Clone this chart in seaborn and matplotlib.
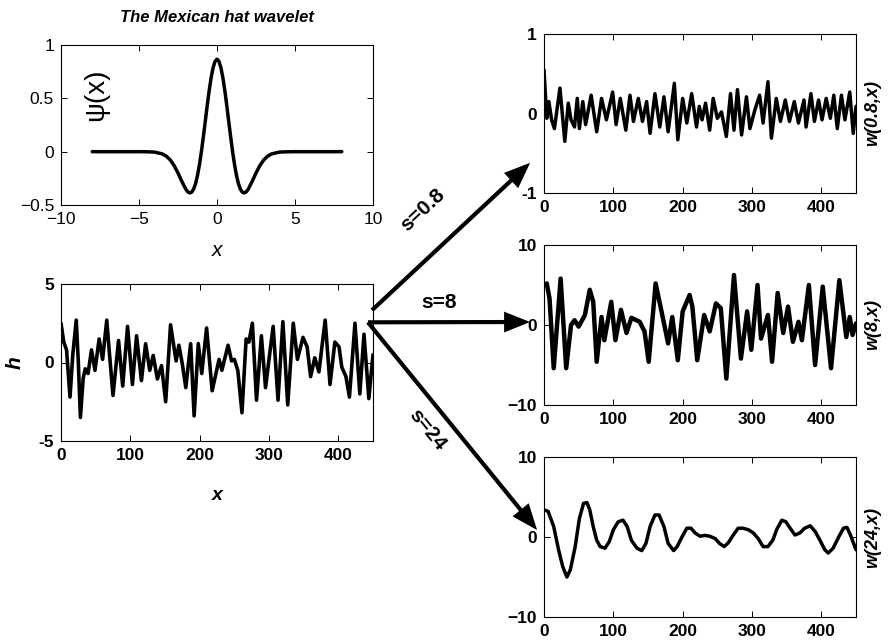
import matplotlib
matplotlib.use("Agg")
import matplotlib.pyplot as plt
import seaborn as sns
from matplotlib.patches import ConnectionPatch

# ---------------- data ----------------
hat_x = [-8, -6, -5, -4.5, -4, -3.5, -3.25, -3, -2.75, -2.5, -2.25, -2, -1.875, -1.75, -1.625, -1.5,
         -1.375, -1.25, -1.125, -1, -0.875, -0.75, -0.625, -0.5, -0.375, -0.25, -0.125,
         0, 0.125, 0.25, 0.375, 0.5, 0.625, 0.75, 0.875, 1, 1.125, 1.25, 1.375, 1.5, 1.625,
         1.75, 1.875, 2, 2.25, 2.5, 2.75, 3, 3.25, 3.5, 4, 4.5, 5, 6, 8]
hat_y = [0, 0, 0, -0.001, -0.004, -0.021, -0.042, -0.077, -0.130, -0.2, -0.280, -0.352, -0.376, -0.387, -0.380, -0.352,
         -0.300, -0.223, -0.122, 0, 0.139, 0.286, 0.435, 0.574, 0.695, 0.788, 0.847,
         0.867, 0.847, 0.788, 0.695, 0.574, 0.435, 0.286, 0.139, 0, -0.122, -0.223, -0.300, -0.352, -0.380,
         -0.387, -0.376, -0.352, -0.280, -0.2, -0.130, -0.077, -0.042, -0.021, -0.004, -0.001, 0, 0, 0]

h_x = [0, 4, 8, 13, 17, 22, 25, 28, 32, 35, 39, 44, 49, 55, 60, 66, 70, 75, 83, 89,
       96, 103, 109, 116, 122, 128, 133, 139, 145, 151, 158, 166, 170, 175, 180, 187, 192, 198, 203, 210,
       218, 228, 232, 241, 246, 250, 255, 261, 267, 271, 276, 282, 289, 295, 300, 306, 313, 320, 327, 335,
       341, 349, 355, 360, 366, 372, 381, 388, 395, 401, 405, 411, 416, 424, 431, 437, 444, 450]
h_y = [2.5, 1.3, 0.8, -2.2, 0.5, 2.7, 0, -3.5, -1.0, -0.4, -0.7, 0.8, -0.5, 1.5, 0.2, 2.7, 0.5, -2.1, 1.4, -1.5,
       2.3, -1.4, 1.7, -1.15, 1.2, -0.5, 0.45, -1.05, -0.2, -2.5, 2.4, 0.1, 1.1, -0.1, -1.6, 1.2, -3.4, 1.2, -0.7, 2.2,
       -1.8, 0.2, -0.5, 1.1, 0.1, 0.2, -0.5, -3.2, 1.5, 1.3, 2.5, -2.4, 1.7, -1.6, 0.2, 2.3, -2.4, 2.6, -2.7, 2.5,
       0.2, 1.6, 1.0, -0.9, 0.3, -0.6, 2.7, -1.4, 1.3, 1.0, -0.3, -0.9, -2.2, 2.5, -2.0, 1.8, -2.3, 0.5]

w08_x = [0, 4, 7, 11, 15, 23, 30, 35, 39, 44, 48, 51, 56, 60, 68, 76, 83, 90, 99, 104,
         110, 118, 124, 129, 136, 142, 148, 153, 160, 167, 173, 179, 188, 193, 200, 206, 213, 220, 224, 228,
         233, 239, 244, 250, 256, 263, 269, 274, 279, 285, 292, 297, 304, 311, 316, 323, 328, 335, 341, 348,
         354, 361, 367, 375, 378, 385, 390, 396, 401, 407, 413, 418, 423, 429, 434, 441, 446, 450]
w08_y = [0.55, -0.06, 0.15, -0.08, -0.19, 0.32, -0.35, 0.13, -0.08, -0.17, 0.19, -0.19, 0.15, -0.14, 0.23, -0.23, 0.19, -0.08, 0.27, -0.14,
         0.19, -0.21, 0.23, -0.1, 0.19, -0.1, 0.15, -0.25, 0.25, -0.17, 0.21, -0.23, 0.38, -0.33, 0.19, -0.12, 0.25, -0.17, 0.09, -0.08,
         0.13, -0.21, 0.19, -0.06, 0.02, -0.29, 0.25, -0.21, 0.3, -0.27, 0.21, -0.19, 0.04, 0.23, -0.12, 0.4, -0.31, 0.19, -0.1, 0.17,
         -0.1, 0.15, -0.12, 0.17, -0.17, 0.25, -0.1, 0.17, -0.08, 0.19, -0.06, 0.23, -0.19, 0.23, -0.08, 0.27, -0.25, 0.09]

w8_x = [0, 4, 8, 14, 24, 32, 39, 44, 50, 59, 66, 71, 76, 83, 87, 97, 103, 111, 119, 126,
        138, 145, 151, 161, 169, 179, 185, 193, 200, 210, 214, 221, 231, 239, 248, 255, 263, 274, 284, 293,
        299, 308, 313, 323, 329, 337, 345, 352, 359, 367, 372, 382, 391, 402, 414, 426, 436, 441, 445, 450]
w8_y = [5.0, 5.2, 3.3, -5.4, 5.8, -5.4, 0, 0.6, -0.2, 1.25, 4.4, 2.9, -4.6, 1.0, -1.9, 2.9, -1.9, 1.9, -1.0, 0.9,
        0.4, -0.8, -4.6, 5.2, 1.9, -2.3, 1.0, -4.4, 1.7, 3.75, 2.3, -4.4, 1.25, -0.8, 2.7, 2.1, -6.7, 6.25, -4.2, 1.7,
        -3.1, 5.0, -1.7, 1.25, -4.6, 4.0, -1.0, 2.3, -2.1, 0.4, -1.9, 5.0, -5.0, 4.8, -5.4, 5.6, -1.5, 1.0, -1.25, 0.2]

w24_x = [0, 6, 14, 21, 27, 33, 38, 45, 51, 57, 62, 66, 71, 76, 81, 88, 94, 100, 107, 114,
         120, 126, 134, 141, 147, 153, 160, 166, 173, 179, 187, 192, 199, 206, 212, 218, 225, 232, 239, 247,
         253, 260, 266, 273, 280, 287, 295, 302, 309, 316, 323, 330, 336, 343, 349, 355, 362, 369, 376, 384,
         391, 398, 405, 410, 417, 425, 432, 437, 442, 450]
w24_y = [3.4, 3.2, 1.3, -1.6, -3.7, -5.0, -4.1, -1.2, 2.3, 4.2, 4.3, 3.4, 1.3, -0.4, -1.2, -1.4, -0.6, 0.9, 1.9, 2.1,
         1.3, -0.4, -1.4, -1.7, -0.8, 1.3, 2.75, 2.75, 1.3, -0.8, -1.7, -1.2, 0, 1.1, 1.1, 0.5, 0.1, 0.2, 0.1, -0.2,
         -0.8, -1.2, -0.7, 0.25, 1.1, 1.1, 0.9, 0.5, -0.2, -1.2, -1.2, -0.4, 1.0, 2.1, 1.9, 1.1, 0.25, 0.5, 1.1, 1.4,
         0.7, -0.4, -1.6, -2.0, -1.4, 0.0, 1.1, 1.2, 0.25, -1.6]

sig_xticks = [0, 100, 200, 300, 400]
sig_xticklabels = ["0", "100", "200", "300", "400"]
hat_xticks = [-10, -5, 0, 5, 10]
hat_xticklabels = ["\u221210", "\u22125", "0", "5", "10"]
hat_yticks = [-0.5, 0, 0.5, 1]
hat_yticklabels = ["\u22120.5", "0", "0.5", "1"]
h_yticks = [-5, 0, 5]
h_yticklabels = ["-5", "0", "5"]
w08_yticks = [-1, 0, 1]
w08_yticklabels = ["-1", "0", "1"]
w_yticks = [-10, 0, 10]
w_yticklabels = ["\u221210", "0", "10"]
scale_labels = ["s=0.8", "s=8", "s=24"]

# ---------------- style ----------------
sns.set_style("ticks")
plt.rcParams['font.family'] = ['Liberation Sans', 'DejaVu Sans']
plt.rcParams.update({
    'text.color': 'black', 'axes.labelcolor': 'black',
    'xtick.direction': 'in', 'ytick.direction': 'in',
    'xtick.top': True, 'ytick.right': True,
    'xtick.major.size': 4, 'ytick.major.size': 4,
    'xtick.major.width': 0.7, 'ytick.major.width': 0.7,
    'xtick.major.pad': 5, 'ytick.major.pad': 5,
    'axes.linewidth': 0.8, 'axes.edgecolor': 'black',
    'xtick.color': 'black', 'ytick.color': 'black',
    'xtick.labelcolor': 'black', 'ytick.labelcolor': 'black',
})

W, H = 888, 640
fig = plt.figure(figsize=(W / 100, H / 100), dpi=100)


def box(l, t, r, b):
    return [l / W, 1 - b / H, (r - l) / W, (b - t) / H]


ax_hat = fig.add_axes(box(61, 45, 373, 205))
ax_h = fig.add_axes(box(61, 284, 373, 441))
ax_w1 = fig.add_axes(box(544, 34, 856, 193))
ax_w2 = fig.add_axes(box(544, 245, 856, 405))
ax_w3 = fig.add_axes(box(544, 457, 856, 617))

line_kw = dict(color='black', estimator=None, sort=False)
sns.lineplot(x=hat_x, y=hat_y, ax=ax_hat, linewidth=2.5, **line_kw)
sns.lineplot(x=h_x, y=h_y, ax=ax_h, linewidth=2.6, **line_kw)
sns.lineplot(x=w08_x, y=w08_y, ax=ax_w1, linewidth=2.5, **line_kw)
sns.lineplot(x=w8_x, y=w8_y, ax=ax_w2, linewidth=3.2, **line_kw)
sns.lineplot(x=w24_x, y=w24_y, ax=ax_w3, linewidth=2.5, **line_kw)

for ax in (ax_hat, ax_h, ax_w1, ax_w2, ax_w3):
    for lin in ax.get_lines():
        lin.set_solid_joinstyle('round')
        lin.set_solid_capstyle('round')
    for s in ax.spines.values():
        s.set_visible(True)
        s.set_color('black')

# hat panel
ax_hat.set_xlim(-10, 10)
ax_hat.set_ylim(-0.5, 1)
ax_hat.set_xticks(hat_xticks)
ax_hat.set_xticklabels(hat_xticklabels, fontsize=12.5)
ax_hat.set_yticks(hat_yticks)
ax_hat.set_yticklabels(hat_yticklabels, fontsize=12.5)
ax_hat.set_xlabel("x", fontsize=15, fontstyle='italic', va='center')
ax_hat.xaxis.set_label_coords(0.5, -(250 - 205) / 160)
ax_hat.set_ylabel("")
ax_hat.text(0.112, 0.69, "\u03c8(x)", rotation=90, fontsize=20,
            transform=ax_hat.transAxes, ha='center', va='center')
fig.text(217 / W, 1 - 18 / H, "The Mexican hat wavelet", fontsize=12,
         fontweight='bold', fontstyle='italic', ha='center', va='center')

# h panel
ax_h.set_xlim(0, 450)
ax_h.set_ylim(-5, 5)
ax_h.set_xticks(sig_xticks)
ax_h.set_xticklabels(sig_xticklabels, fontsize=12.5, fontweight='bold')
ax_h.set_yticks(h_yticks)
ax_h.set_yticklabels(h_yticklabels, fontsize=12.5, fontweight='bold')
ax_h.set_xlabel("x", fontsize=14, fontstyle='italic', fontweight='bold', va='center')
ax_h.xaxis.set_label_coords(0.5, -(495 - 441) / 157)
ax_h.set_ylabel("h", fontsize=15, fontstyle='italic', fontweight='bold', va='center', ha='center')
ax_h.yaxis.set_label_coords((15 - 61) / 312, 0.5)

# right panels
right_specs = [
    (ax_w1, (-1, 1), w08_yticks, w08_yticklabels, "w(0.8,x)"),
    (ax_w2, (-10, 10), w_yticks, w_yticklabels, "w(8,x)"),
    (ax_w3, (-10, 10), w_yticks, w_yticklabels, "w(24,x)"),
]
for ax, ylim, yt, ytl, lab in right_specs:
    ax.set_xlim(0, 450)
    ax.set_ylim(*ylim)
    ax.set_xticks(sig_xticks)
    ax.set_xticklabels(sig_xticklabels, fontsize=12.5, fontweight='bold')
    ax.set_yticks(yt)
    ax.set_yticklabels(ytl, fontsize=12.5, fontweight='bold')
    ax.set_xlabel("")
    ax.set_ylabel(lab, fontsize=13, fontstyle='italic', fontweight='bold',
                  rotation=90, va='center', ha='center')
    ax.yaxis.set_label_coords((873 - 544) / 312, 0.5)

# arrows from h to the wavelet transforms
arrow_specs = [
    ((448.5, 3.33), ax_w1, (-20, -0.62)),
    ((442.7, 2.56), ax_w2, (-20, 0.375)),
    ((442.7, 2.56), ax_w3, (-10, 0.875)),
]
for start, axB, end in arrow_specs:
    cp = ConnectionPatch(xyA=start, coordsA=ax_h.transData, xyB=end, coordsB=axB.transData,
                         arrowstyle='-|>,head_length=0.55,head_width=0.22', mutation_scale=24,
                         lw=3, color='black', shrinkA=0, shrinkB=0, capstyle='butt', joinstyle='miter')
    cp.set_clip_on(False)
    fig.add_artist(cp)

label_pos = [((423, 210), 43), ((439, 303), 0), ((427, 430), -51)]
for txt, ((px, py), rot) in zip(scale_labels, label_pos):
    fig.text(px / W, 1 - py / H, txt, fontsize=15, fontweight='bold',
             rotation=rot, ha='center', va='center', rotation_mode='anchor')

fig.savefig("out.png", dpi=100)
